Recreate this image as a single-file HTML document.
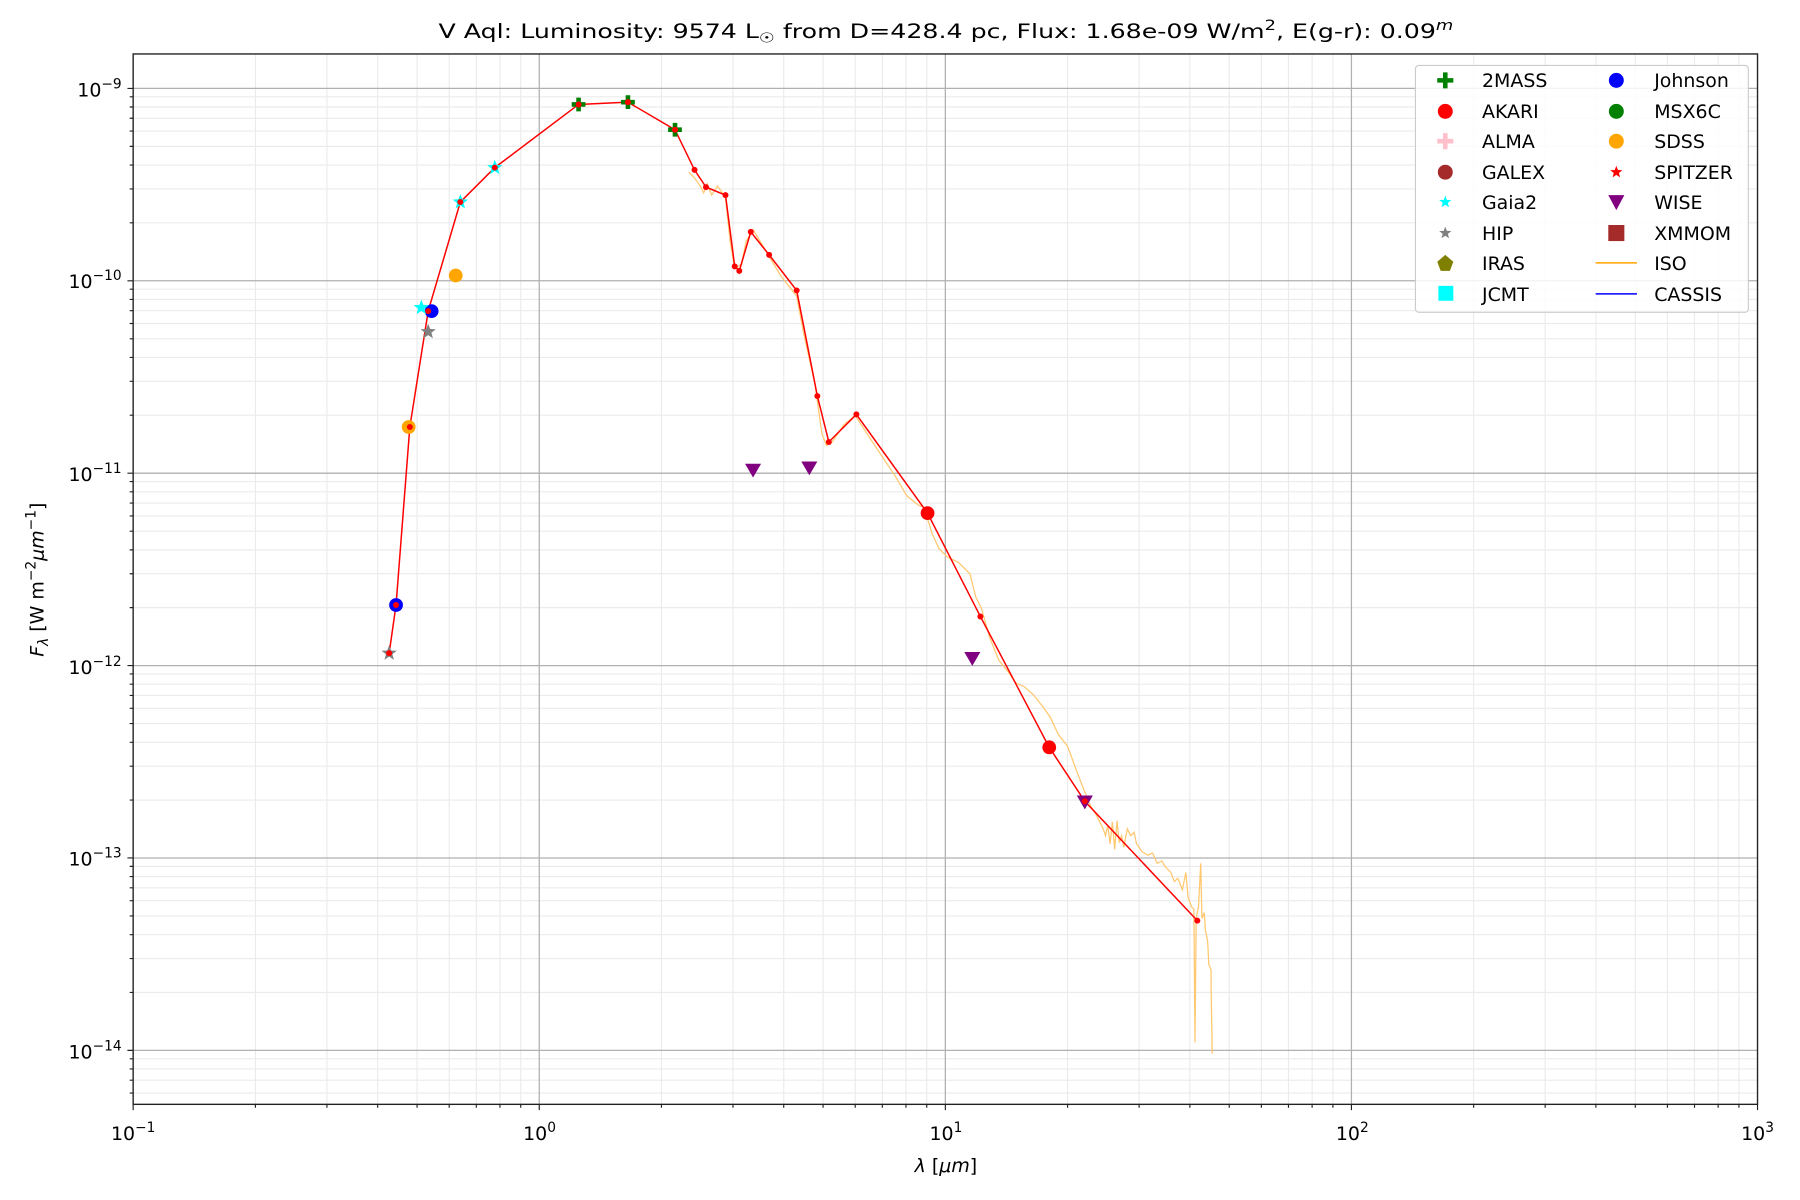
<!DOCTYPE html>
<html><head><meta charset="utf-8"><style>
html,body{margin:0;padding:0;background:#fff;}
svg{display:block;font-family:"DejaVu Sans","Liberation Sans",sans-serif;}
</style></head><body>
<svg width="1800" height="1200" viewBox="0 0 1568 1045.33" xmlns="http://www.w3.org/2000/svg">
<defs>
<path id="st" d="M0,-7 L1.73,-2.38 L6.66,-2.16 L2.8,0.91 L4.11,5.66 L0,2.94 L-4.11,5.66 L-2.8,0.91 L-6.66,-2.16 L-1.73,-2.38Z"/>
</defs>
<rect x="0" y="0" width="1568" height="1046" fill="#fff"/>
<!-- minor grid -->
<path stroke="#ebebeb" stroke-width="1" fill="none" d="
M222.5,47V962M284.8,47V962M329,47V962M363.3,47V962M391.3,47V962M414.9,47V962M435.5,47V962M453.6,47V962
M576.2,47V962M638.5,47V962M682.7,47V962M717,47V962M745,47V962M768.6,47V962M789.2,47V962M807.3,47V962
M930,47V962M992.3,47V962M1036.5,47V962M1070.8,47V962M1098.8,47V962M1122.4,47V962M1143,47V962M1161.1,47V962
M1283.7,47V962M1346,47V962M1390.2,47V962M1424.5,47V962M1452.5,47V962M1476.1,47V962M1496.7,47V962M1514.8,47V962
M116,194.1H1531M116,164.6H1531M116,143.8H1531M116,127.5H1531M116,114.2H1531M116,103H1531M116,93.2H1531M116,84.3H1531
M116,361.7H1531M116,332.2H1531M116,311.4H1531M116,295.1H1531M116,281.8H1531M116,270.6H1531M116,260.8H1531M116,251.9H1531
M116,529.3H1531M116,499.8H1531M116,479H1531M116,462.7H1531M116,449.4H1531M116,438.2H1531M116,428.4H1531M116,419.5H1531
M116,696.9H1531M116,667.4H1531M116,646.6H1531M116,630.3H1531M116,617H1531M116,605.8H1531M116,596H1531M116,587.1H1531
M116,864.5H1531M116,835H1531M116,814.2H1531M116,797.9H1531M116,784.6H1531M116,773.4H1531M116,763.6H1531M116,754.7H1531
M116,952.2H1531M116,941H1531M116,931.2H1531M116,922.3H1531"/>
<!-- major grid -->
<path stroke="#b0b0b0" stroke-width="1.1" fill="none" d="M469.75,47V962M823.5,47V962M1177.25,47V962M116,77H1531M116,244.6H1531M116,412.2H1531M116,579.8H1531M116,747.4H1531M116,915H1531"/>

<text x="824" y="33" font-size="17" text-anchor="middle" fill="#000" textLength="884" lengthAdjust="spacingAndGlyphs">V Aql:  Luminosity: 9574 L<tspan font-size="12" dy="4">☉</tspan><tspan dy="-4"> from D=428.4 pc, Flux: 1.68e-09 W/m</tspan><tspan font-size="12" dy="-7">2</tspan><tspan dy="7">, E(g-r): 0.09</tspan><tspan font-size="12" dy="-7" font-style="italic">m</tspan></text>

<!-- ISO spectrum -->
<polyline fill="none" stroke="#ffc870" stroke-width="1.1" points="600,150 605,155 610,162 613,168 616,160 620,170 625,162 632,172 636,210 640,234 646,230 650,210 656,200 668,220 680,240 694,258 700,290 710,335 716,378 720,388 725,385 735,370 745,362 760,385 770,400 780,415 790,432 800,440 805,442 812,465 818,478 825,485 835,490 845,500 850,520 855,530 862,555 870,575 878,585 885,595 892,598 900,605 908,615 915,625 922,640 930,650 938,672 945,690 950,702 955,710 958,716 961,722 963,728 965,719 967,735 969,716 971,740 973,715 975,734 977,728 979,738 982,722 985,728 988,725 990,735 995,742 1000,745 1004,743 1008,752 1012,750 1015,755 1018,758 1020,760 1023,768 1026,765 1030,775 1033,760 1035,782 1038,790 1040,792 1041,908 1042,800 1044,790 1046,752 1047,800 1049,795 1050,810 1052,820 1053,840 1055,845 1055,860 1056,918"/>

<!-- red SED line -->
<polyline fill="none" stroke="#ff0000" stroke-width="1.3" points="339,569 345,527 357,372 373,271 401,176 431,146 504,91 547,89 588,113 605,148 615,163 632,170 640,232 644,236 654,202 670,222 694,253 712,345 722,385 746,361 808,447 854,537 914,651 945,698 1043,802"/>

<!-- markers -->
<g fill="#ffa500"><circle cx="356" cy="372" r="6"/><circle cx="397" cy="240" r="6"/></g>
<g fill="#0000ff"><circle cx="345" cy="527" r="6"/><circle cx="376" cy="271" r="6"/></g>
<g fill="#ff0000"><circle cx="808" cy="447" r="6"/><circle cx="914" cy="651" r="6"/></g>
<g fill="#800080"><path d="M649,404 L663,404 L656,416Z"/><path d="M698,402 L712,402 L705,414Z"/><path d="M840,568 L854,568 L847,580Z"/><path d="M938,693 L952,693 L945,705Z"/></g>
<g fill="#008000"><path d="M502,85h4v4h4v4h-4v4h-4v-4h-4v-4h4z"/><path d="M545,83h4v4h4v4h-4v4h-4v-4h-4v-4h4z"/><path d="M586,107h4v4h4v4h-4v4h-4v-4h-4v-4h4z"/></g>
<g fill="#00ffff"><use href="#st" x="367" y="268"/><use href="#st" x="401" y="176"/><use href="#st" x="431" y="146"/></g>
<g fill="#808080"><use href="#st" x="339" y="569"/><use href="#st" x="373" y="289"/></g>
<g fill="#ff0000">
<circle cx="339" cy="569" r="2.6"/><circle cx="345" cy="527" r="2.6"/><circle cx="357" cy="372" r="2.6"/><circle cx="373" cy="271" r="2.6"/><circle cx="401" cy="176" r="2.6"/><circle cx="431" cy="146" r="2.6"/><circle cx="504" cy="91" r="2.6"/><circle cx="547" cy="89" r="2.6"/><circle cx="588" cy="113" r="2.6"/><circle cx="605" cy="148" r="2.6"/><circle cx="615" cy="163" r="2.6"/><circle cx="632" cy="170" r="2.6"/><circle cx="640" cy="232" r="2.6"/><circle cx="644" cy="236" r="2.6"/><circle cx="654" cy="202" r="2.6"/><circle cx="670" cy="222" r="2.6"/><circle cx="694" cy="253" r="2.6"/><circle cx="712" cy="345" r="2.6"/><circle cx="722" cy="385" r="2.6"/><circle cx="746" cy="361" r="2.6"/><circle cx="808" cy="447" r="2.6"/><circle cx="854" cy="537" r="2.6"/><circle cx="914" cy="651" r="2.6"/><circle cx="945" cy="698" r="2.6"/><circle cx="1043" cy="802" r="2.6"/>
</g>

<!-- axes frame -->
<rect x="116" y="47" width="1415" height="915" fill="none" stroke="#222" stroke-width="1.2"/>
<path stroke="#222" stroke-width="1" fill="none" d="
M116,962v5M469.75,962v5M823.5,962v5M1177.25,962v5M1531,962v5
M222.5,962v3M284.8,962v3M329,962v3M363.3,962v3M391.3,962v3M414.9,962v3M435.5,962v3M453.6,962v3
M576.2,962v3M638.5,962v3M682.7,962v3M717,962v3M745,962v3M768.6,962v3M789.2,962v3M807.3,962v3
M930,962v3M992.3,962v3M1036.5,962v3M1070.8,962v3M1098.8,962v3M1122.4,962v3M1143,962v3M1161.1,962v3
M1283.7,962v3M1346,962v3M1390.2,962v3M1424.5,962v3M1452.5,962v3M1476.1,962v3M1496.7,962v3M1514.8,962v3
M111,77h5M111,244.6h5M111,412.2h5M111,579.8h5M111,747.4h5M111,915h5
M113,194.1h3M113,164.6h3M113,143.8h3M113,127.5h3M113,114.2h3M113,103h3M113,93.2h3M113,84.3h3
M113,361.7h3M113,332.2h3M113,311.4h3M113,295.1h3M113,281.8h3M113,270.6h3M113,260.8h3M113,251.9h3
M113,529.3h3M113,499.8h3M113,479h3M113,462.7h3M113,449.4h3M113,438.2h3M113,428.4h3M113,419.5h3
M113,696.9h3M113,667.4h3M113,646.6h3M113,630.3h3M113,617h3M113,605.8h3M113,596h3M113,587.1h3
M113,864.5h3M113,835h3M113,814.2h3M113,797.9h3M113,784.6h3M113,773.4h3M113,763.6h3M113,754.7h3
M113,952.2h3M113,941h3M113,931.2h3M113,922.3h3"/>

<!-- tick labels -->
<g font-size="16.5" fill="#000">
<text x="116" y="993" text-anchor="middle">10<tspan font-size="12" dy="-7">−1</tspan></text>
<text x="470" y="993" text-anchor="middle">10<tspan font-size="12" dy="-7">0</tspan></text>
<text x="824" y="993" text-anchor="middle">10<tspan font-size="12" dy="-7">1</tspan></text>
<text x="1178" y="993" text-anchor="middle">10<tspan font-size="12" dy="-7">2</tspan></text>
<text x="1531" y="993" text-anchor="middle">10<tspan font-size="12" dy="-7">3</tspan></text>
<text x="106" y="84" text-anchor="end">10<tspan font-size="12" dy="-7">−9</tspan></text>
<text x="106" y="251" text-anchor="end">10<tspan font-size="12" dy="-7">−10</tspan></text>
<text x="106" y="419" text-anchor="end">10<tspan font-size="12" dy="-7">−11</tspan></text>
<text x="106" y="587" text-anchor="end">10<tspan font-size="12" dy="-7">−12</tspan></text>
<text x="106" y="754" text-anchor="end">10<tspan font-size="12" dy="-7">−13</tspan></text>
<text x="106" y="922" text-anchor="end">10<tspan font-size="12" dy="-7">−14</tspan></text>
<text x="824" y="1021" text-anchor="middle"><tspan font-style="italic">λ</tspan> [<tspan font-style="italic">μm</tspan>]</text>
<text transform="translate(38,505) rotate(-90)" text-anchor="middle"><tspan font-style="italic">F</tspan><tspan font-style="italic" font-size="12" dy="4">λ</tspan><tspan dy="-4"> [W m</tspan><tspan font-size="12" dy="-7">−2</tspan><tspan dy="7" font-style="italic">μm</tspan><tspan font-size="12" dy="-7">−1</tspan><tspan dy="7">]</tspan></text>
</g>

<!-- legend -->
<rect x="1233" y="57" width="290" height="215" rx="3" fill="#fff" fill-opacity="0.85" stroke="#ccc" stroke-width="1"/>
<g font-size="16.5" fill="#000">
<text x="1291" y="76">2MASS</text><text x="1291" y="103">AKARI</text><text x="1291" y="129">ALMA</text><text x="1291" y="156">GALEX</text>
<text x="1291" y="182">Gaia2</text><text x="1291" y="209">HIP</text><text x="1291" y="235">IRAS</text><text x="1291" y="262">JCMT</text>
<text x="1441" y="76">Johnson</text><text x="1441" y="103">MSX6C</text><text x="1441" y="129">SDSS</text><text x="1441" y="156">SPITZER</text>
<text x="1441" y="182">WISE</text><text x="1441" y="209">XMMOM</text><text x="1441" y="235">ISO</text><text x="1441" y="262">CASSIS</text>
</g>
<path d="M1257,63h4v5h5v4h-5v5h-4v-5h-5v-4h5z" fill="#008000"/>
<circle cx="1259" cy="97" r="6.5" fill="#ff0000"/>
<path d="M1257,116h4v5h5v4h-5v5h-4v-5h-5v-4h5z" fill="#ffc0cb"/>
<circle cx="1259" cy="150" r="6.5" fill="#a52a2a"/>
<path d="M1252,228 L1259,222 L1266,228 L1263,236 L1255,236Z" fill="#808000"/>
<rect x="1253" y="249" width="13" height="13" fill="#00ffff"/>
<use href="#st" x="1259" y="176" fill="#00ffff" transform="translate(1259,176) scale(0.8) translate(-1259,-176)"/>
<use href="#st" x="1259" y="203" fill="#808080" transform="translate(1259,203) scale(0.8) translate(-1259,-203)"/>
<circle cx="1408" cy="70" r="6.5" fill="#0000ff"/>
<circle cx="1408" cy="97" r="6.5" fill="#008000"/>
<circle cx="1408" cy="123" r="6.5" fill="#ffa500"/>
<use href="#st" x="1408" y="150" fill="#ff0000" transform="translate(1408,150) scale(0.8) translate(-1408,-150)"/>
<path d="M1401,170 L1415,170 L1408,183Z" fill="#800080"/>
<rect x="1401" y="196" width="14" height="14" fill="#a52a2a"/>
<line x1="1390" y1="229" x2="1426" y2="229" stroke="#ffa500" stroke-width="1.3"/>
<line x1="1390" y1="256" x2="1426" y2="256" stroke="#0000ff" stroke-width="1.3"/>
</svg>
</body></html>
